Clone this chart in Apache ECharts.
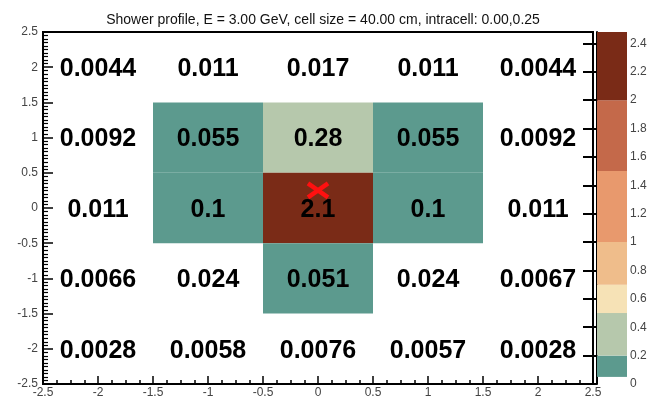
<!DOCTYPE html>
<html>
<head>
<meta charset="utf-8">
<script src="https://cdn.jsdelivr.net/npm/echarts@6/dist/echarts.min.js"></script>
<style>
html,body{margin:0;padding:0;background:#fff;}
#chart{width:653px;height:399px;}
</style>
</head>
<body>
<div id="chart"></div>
<script>
// ---- data ----
const xCenters = [-2, -1, 0, 1, 2];
const yCenters = [2, 1, 0, -1, -2];
const rowY2  = [0.0044, 0.011, 0.017, 0.011, 0.0044];
const rowY1  = [0.0092, 0.055, 0.28, 0.055, 0.0092];
const rowY0  = [0.011, 0.1, 2.1, 0.1, 0.011];
const rowYm1 = [0.0066, 0.024, 0.051, 0.024, 0.0067];
const rowYm2 = [0.0028, 0.0058, 0.0076, 0.0057, 0.0028];
const rows = [rowY2, rowY1, rowY0, rowYm1, rowYm2];
const impactPoint = [0.00, 0.25];
const axisRange = [-2.5, 2.5];
const levelBounds = [0.05, 0.2, 0.5, 0.7, 1.0, 1.5, 2.0, 2.48];
const levelColors = ['#5c9a8e', '#b6c8ac', '#f6e2b6', '#efbd8b', '#e8996d', '#c4694a', '#7a2b17'];
const colorbarTicks = [0, 0.2, 0.4, 0.6, 0.8, 1, 1.2, 1.4, 1.6, 1.8, 2, 2.2, 2.4];
const titleText = 'Shower profile, E = 3.00 GeV, cell size = 40.00 cm, intracell: 0.00,0.25';

// ---- build ----
const cellData = [];
rows.forEach((r, i) => r.forEach((v, j) => cellData.push([xCenters[j], yCenters[i], v])));
const bandData = [];
for (let k = 0; k < levelColors.length; k++) bandData.push([levelBounds[k], levelBounds[k + 1], k]);

function colorFor(v) {
  if (v < levelBounds[0]) return null;
  for (let k = 0; k < levelColors.length; k++) {
    if (v < levelBounds[k + 1]) return levelColors[k];
  }
  return levelColors[levelColors.length - 1];
}
function fmt(v) { return String(Number(v.toPrecision(2))); }

const FONT = '"Liberation Sans", Arial, Helvetica, sans-serif';
const chart = echarts.init(document.getElementById('chart'));
chart.setOption({
  backgroundColor: '#fff',
  animation: false,
  title: {
    text: titleText, left: 318, top: 8, textAlign: 'center',
    textStyle: { fontFamily: FONT, fontSize: 14, fontWeight: 'normal', color: '#111' }
  },
  grid: [
    { left: 43, top: 32, width: 550, height: 352 },
    { left: 597, top: 32, width: 30, height: 352 }
  ],
  xAxis: [
    {
      gridIndex: 0, type: 'value', min: -2.5, max: 2.5, interval: 0.5, position: 'bottom',
      axisLine: { show: true, onZero: false, lineStyle: { color: '#000', width: 2 } },
      axisTick: { inside: true, length: 8, lineStyle: { color: '#000', width: 1.5 } },
      minorTick: { show: true, splitNumber: 4, length: 4, lineStyle: { color: '#000', width: 1.5 } },
      splitLine: { show: false },
      axisLabel: { color: '#444', fontSize: 12, fontFamily: FONT, margin: 3 }
    },
    { gridIndex: 1, type: 'value', min: 0, max: 1, show: false }
  ],
  yAxis: [
    {
      gridIndex: 0, type: 'value', min: -2.5, max: 2.5, interval: 0.5, position: 'left',
      axisLine: { show: true, onZero: false, lineStyle: { color: '#000', width: 2 } },
      axisTick: { inside: true, length: 10, lineStyle: { color: '#000', width: 1.5 } },
      minorTick: { show: true, splitNumber: 10, length: 5, lineStyle: { color: '#000', width: 1.2 } },
      splitLine: { show: false },
      axisLabel: { color: '#444', fontSize: 12, fontFamily: FONT, margin: 5 }
    },
    {
      gridIndex: 1, type: 'value', min: 0, max: 2.48, position: 'right',
      axisLine: { show: true, lineStyle: { color: '#000', width: 2 } },
      axisTick: { inside: true, length: 14, customValues: colorbarTicks, lineStyle: { color: '#000', width: 2 } },
      splitLine: { show: false },
      axisLabel: { customValues: colorbarTicks, color: '#444', fontSize: 12, fontFamily: FONT, margin: 3 }
    }
  ],
  series: [
    {
      type: 'custom', xAxisIndex: 0, yAxisIndex: 0, data: cellData, z: 2,
      renderItem: function (params, api) {
        const x = api.value(0), y = api.value(1), v = api.value(2);
        const p0 = api.coord([x - 0.5, y + 0.5]);
        const p1 = api.coord([x + 0.5, y - 0.5]);
        const c = colorFor(v);
        const children = [];
        if (c) children.push({ type: 'rect', shape: { x: p0[0], y: p0[1], width: p1[0] - p0[0], height: p1[1] - p0[1] }, style: { fill: c } });
        children.push({ type: 'text', x: (p0[0] + p1[0]) / 2, y: (p0[1] + p1[1]) / 2 + 2,
          style: { text: fmt(v), fill: '#000', font: 'bold 25px ' + FONT, align: 'center', verticalAlign: 'middle' } });
        return { type: 'group', children: children };
      }
    },
    {
      type: 'custom', xAxisIndex: 0, yAxisIndex: 0, data: [[axisRange[0], axisRange[1]]], z: 6, silent: true,
      renderItem: function (params, api) {
        const p0 = api.coord([api.value(0), api.value(1)]);
        const p1 = api.coord([api.value(1), api.value(0)]);
        return { type: 'rect', shape: { x: p0[0], y: p0[1], width: p1[0] - p0[0], height: p1[1] - p0[1] },
          style: { fill: 'none', stroke: '#000', lineWidth: 2 } };
      }
    },
    {
      type: 'custom', xAxisIndex: 0, yAxisIndex: 0, data: [impactPoint], z: 5,
      renderItem: function (params, api) {
        const p = api.coord([api.value(0), api.value(1)]);
        const hw = 10, hh = 7;
        const st = { stroke: '#ff1010', lineWidth: 4.5 };
        return { type: 'group', children: [
          { type: 'line', shape: { x1: p[0] - hw, y1: p[1] - hh, x2: p[0] + hw, y2: p[1] + hh }, style: st },
          { type: 'line', shape: { x1: p[0] - hw, y1: p[1] + hh, x2: p[0] + hw, y2: p[1] - hh }, style: st }
        ] };
      }
    },
    {
      type: 'custom', xAxisIndex: 1, yAxisIndex: 1, data: bandData, z: 2,
      renderItem: function (params, api) {
        const lo = api.value(0), hi = api.value(1), k = api.value(2);
        const p0 = api.coord([0, hi]);
        const p1 = api.coord([1, lo]);
        return { type: 'rect', shape: { x: p0[0], y: p0[1], width: p1[0] - p0[0], height: p1[1] - p0[1] }, style: { fill: levelColors[k] } };
      }
    }
  ]
});
</script>
</body>
</html>
